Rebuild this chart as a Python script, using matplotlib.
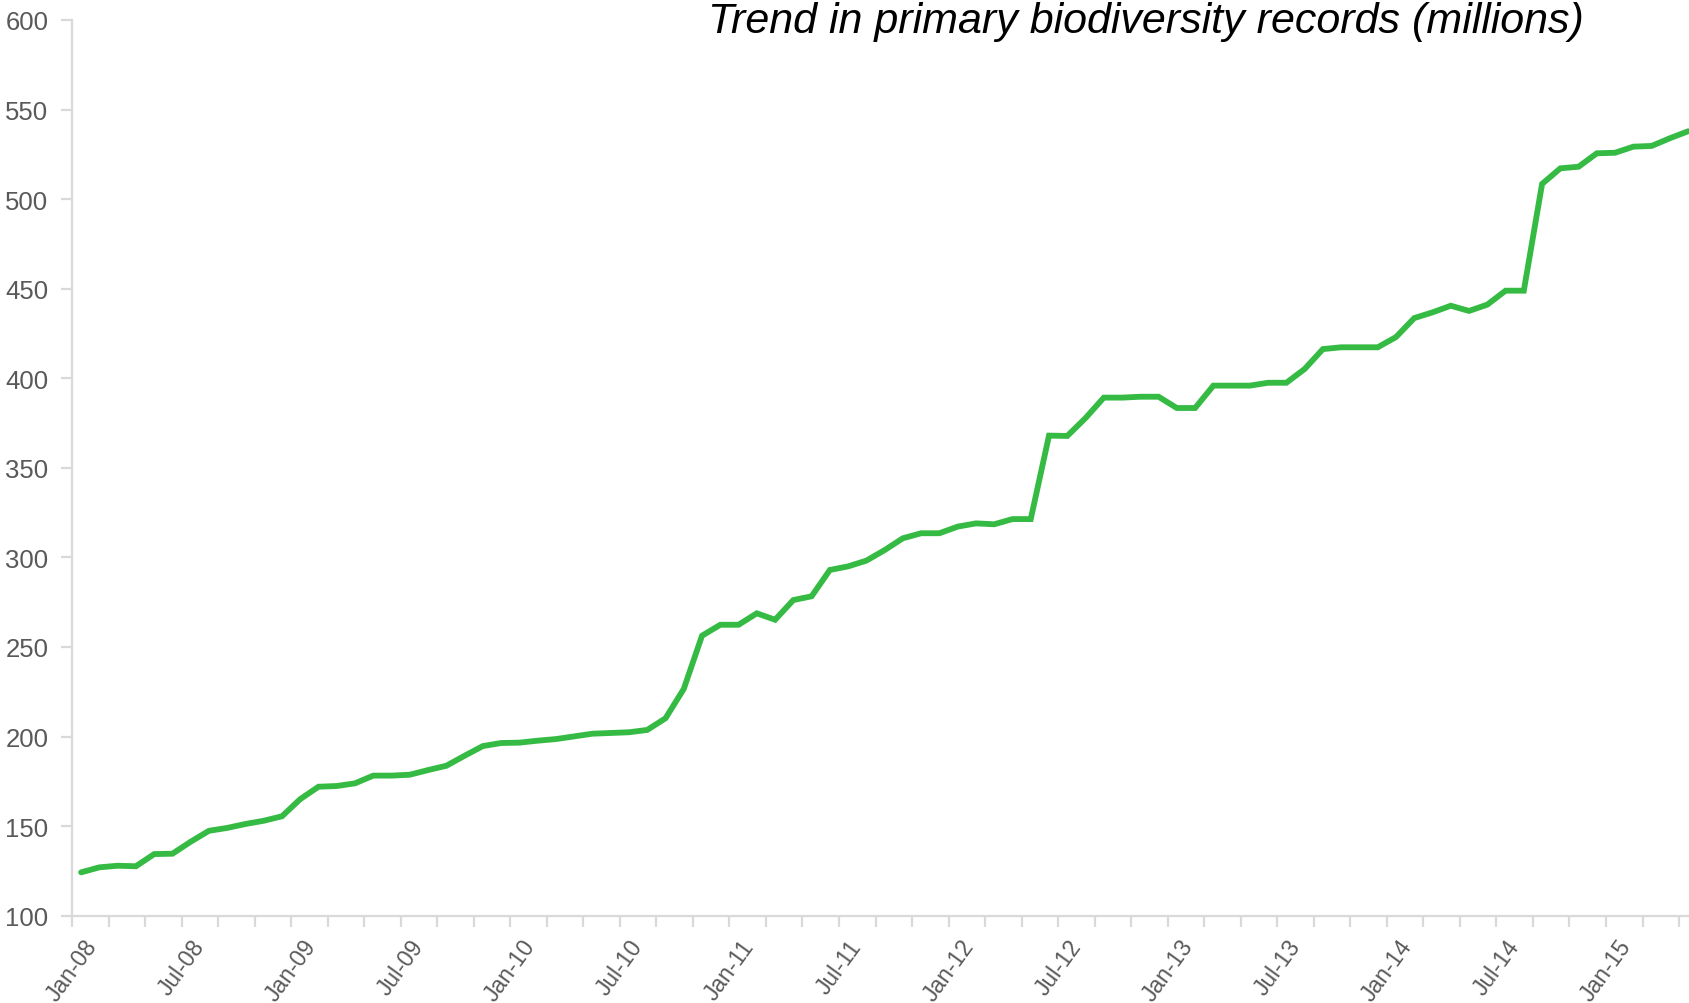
import matplotlib
matplotlib.use("Agg")
import matplotlib.pyplot as plt
import pandas as pd

# Monthly categories Jan-08 .. May-15
months = [d.strftime("%b-%y") for d in pd.date_range("2008-01-01", "2015-05-01", freq="MS")]

records = [
    124.2, 127.0, 127.9, 127.6, 134.4, 134.6, 141.3, 147.4, 149.0, 151.2, 153.0, 155.5,
    165.1, 172.0, 172.4, 173.9, 178.2, 178.2, 178.7, 181.3, 183.7, 189.3, 194.7, 196.4,
    196.6, 197.7, 198.6, 200.1, 201.6, 202.0, 202.4, 203.7, 210.2, 226.6, 256.3, 262.4,
    262.4, 268.8, 265.2, 276.2, 278.3, 293.0, 295.0, 298.2, 304.1, 310.7, 313.5, 313.5,
    317.2, 319.0, 318.5, 321.4, 321.4, 368.0, 367.8, 377.8, 389.2, 389.2, 389.7, 389.7,
    383.4, 383.4, 395.9, 395.9, 395.9, 397.5, 397.5, 405.2, 416.3, 417.3, 417.3, 417.3,
    423.0, 433.6, 436.8, 440.5, 437.6, 441.1, 448.9, 448.9, 508.5, 517.2, 518.1, 525.6,
    525.9, 529.3, 529.7, 534.0, 537.9,
]

y_ticks = [100, 150, 200, 250, 300, 350, 400, 450, 500, 550, 600]
title = "Trend in primary biodiversity records (millions)"

plt.rcParams["font.family"] = ["Liberation Sans", "DejaVu Sans"]

fig = plt.figure(figsize=(16.9, 10.04), dpi=100)
ax = fig.add_axes([72 / 1690, (1004 - 916.7) / 1004, 1 - 72 / 1690, (916.7 - 21) / 1004])

xpos = [i + 0.5 for i in range(len(records))]
ax.plot(xpos, records, color="#35BB43", lw=4.2, solid_capstyle="round",
        solid_joinstyle="miter", clip_on=False, zorder=3)

ax.set_xlim(0, 88.6)
ax.set_ylim(100, 600)
ax.set_yticks(y_ticks)
ax.set_yticklabels([str(v) for v in y_ticks])

tick_pos = list(range(0, len(months), 2))
ax.set_xticks(tick_pos)
ax.set_xticklabels([months[i] if i % 6 == 0 else "" for i in tick_pos],
                   rotation=54, ha="center", va="top")

for s in ["top", "right"]:
    ax.spines[s].set_visible(False)
for s in ["left", "bottom"]:
    ax.spines[s].set_color("#D9D9D9")
    ax.spines[s].set_linewidth(1.6)

ax.tick_params(axis="both", colors="#D9D9D9", width=1.6, length=8,
               labelcolor="#595959")
ax.tick_params(axis="y", pad=9, labelsize=18.5)
ax.tick_params(axis="x", pad=6, labelsize=16.5)

fig.text(0.9375, 0.978, title, ha="right", va="center", fontsize=31,
         fontstyle="italic", color="black")

fig.savefig("out.png", dpi=100, facecolor="white")
